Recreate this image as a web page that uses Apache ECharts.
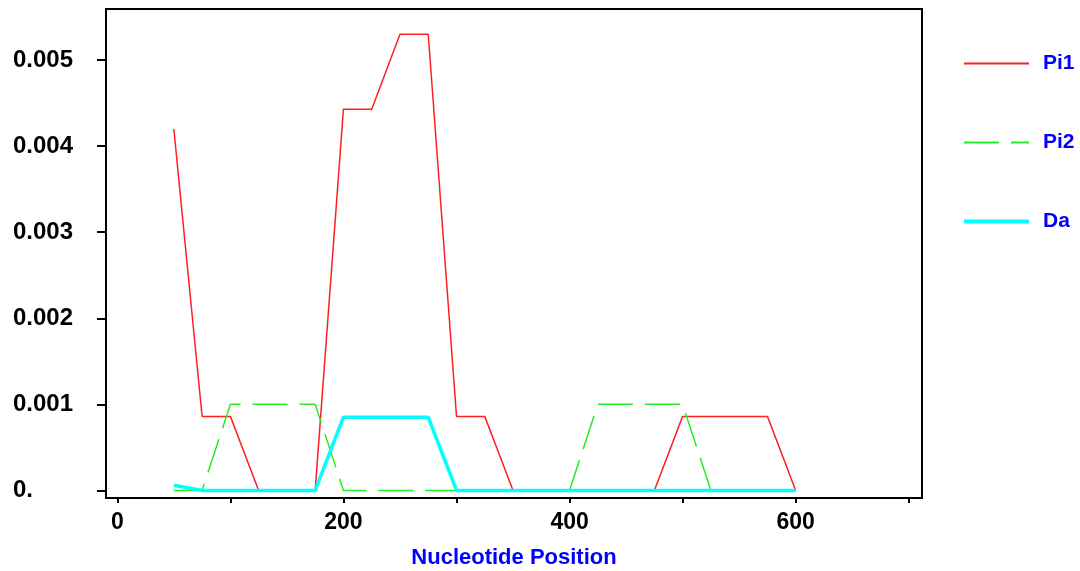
<!DOCTYPE html>
<html>
<head>
<meta charset="utf-8">
<script src="https://cdn.jsdelivr.net/npm/echarts@6/dist/echarts.min.js"></script>
<style>html,body{margin:0;padding:0;background:#fff;}#c{width:1080px;height:571px;}</style>
</head>
<body>
<div id="c"></div>
<script>
const positions = [50,75,100,125,150,175,200,225,250,275,300,325,350,375,400,425,450,475,500,525,550,575,600];
const pi1 = [0.0042,0.00086,0.00086,0,0,0,0.00443,0.00443,0.0053,0.0053,0.00086,0.00086,0,0,0,0,0,0,0.00086,0.00086,0.00086,0.00086,0];
const pi2 = [0,0,0.001,0.001,0.001,0.001,0,0,0,0,0,0,0,0,0,0.001,0.001,0.001,0.001,0,0,0,0];
const da  = [0.00006,0,0,0,0,0,0.00085,0.00085,0.00085,0.00085,0,0,0,0,0,0,0,0,0,0,0,0,0];
const xTicks = [0,100,200,300,400,500,600,700];
const xLabels = [0,200,400,600];
const yTicks = [0,0.001,0.002,0.003,0.004,0.005];
const yLabels = ['0.','0.001','0.002','0.003','0.004','0.005'];
const seriesNames = ['Pi1','Pi2','Da'];

const zip = (xs, ys) => xs.map((x,i)=>[x,ys[i]]);
const font = '"Liberation Sans", Arial, sans-serif';
const chart = echarts.init(document.getElementById('c'), null, {renderer:'canvas'});
chart.setOption({
  animation:false,
  backgroundColor:'#ffffff',
  grid:{left:106,right:158,top:9,bottom:73,show:true,borderColor:'#000',borderWidth:2,backgroundColor:'transparent',
        containLabel:false,outerBoundsMode:'none'},
  legend:{
    orient:'vertical', left:957, top:48, itemWidth:65, itemHeight:14, itemGap:58,
    data:[{name:seriesNames[0]},{name:seriesNames[1]},{name:seriesNames[2],lineStyle:{width:4}}],
    itemStyle:{color:'transparent',borderWidth:0,opacity:0},
    textStyle:{color:'#0000ff',fontFamily:font,fontWeight:'bold',fontSize:21,padding:[0,0,0,9]}
  },
  xAxis:{
    type:'value', min:-10, max:711.7,
    name:'Nucleotide Position', nameLocation:'middle', nameGap:49,
    nameTextStyle:{color:'#0000ff',fontFamily:font,fontWeight:'bold',fontSize:22},
    splitLine:{show:false},
    axisLine:{onZero:false,lineStyle:{color:'#000',width:2}},
    axisTick:{length:5,lineStyle:{color:'#000',width:2},customValues:xTicks},
    axisLabel:{customValues:xLabels,color:'#000',fontFamily:font,fontWeight:'bold',fontSize:23,margin:13}
  },
  yAxis:{
    type:'value', min:-0.0000883, max:0.005594,
    splitLine:{show:false},
    axisLine:{onZero:false,lineStyle:{color:'#000',width:2}},
    axisTick:{length:9,lineStyle:{color:'#000',width:2},customValues:yTicks},
    axisLabel:{customValues:yTicks,align:'left',margin:93,color:'#000',fontFamily:font,fontWeight:'bold',fontSize:24,
      formatter:(v)=>{const i=yTicks.findIndex(t=>Math.abs(t-v)<1e-9);return i>=0?yLabels[i]:'';}}
  },
  series:[
    {name:'Pi1',type:'line',data:zip(positions,pi1),symbol:'none',color:'#ff2020',lineStyle:{color:'#ff2020',width:1.5}},
    {name:'Pi2',type:'line',data:zip(positions,pi2),symbol:'none',color:'#22ee22',lineStyle:{color:'#22ee22',width:1.5,type:[35,12]}},
    {name:'Da',type:'line',data:zip(positions,da),symbol:'none',color:'#00ffff',lineStyle:{color:'#00ffff',width:3.5}}
  ]
});
</script>
</body>
</html>
